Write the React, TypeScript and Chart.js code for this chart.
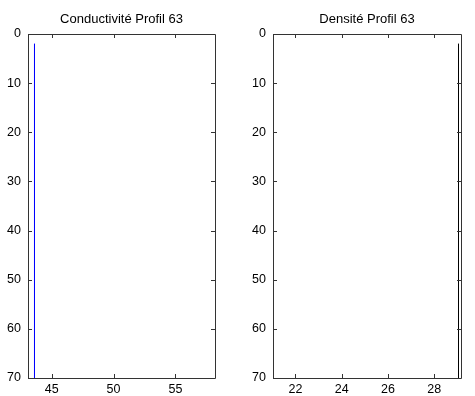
import React, { useEffect, useRef } from "react";
import { Chart, registerables } from "chart.js";

Chart.register(...registerables);

// Data
const depthsCond = [2, 70];
const valuesCond = [43.615, 43.615];
const depthsDens = [2, 70];
const valuesDens = [29.052, 29.052];

const condTitle = "Conductivité Profil 63";
const densTitle = "Densité Profil 63";

const condXTicks = [45, 50, 55];
const densXTicks = [22, 24, 26, 28];
const yTicks = [0, 10, 20, 30, 40, 50, 60, 70];

const condXRange = [43.09, 58.2];
const densXRange = [21.03, 29.16];
const yRange = [0, 70];

const W = 475;
const H = 396;
const FONT = "'Liberation Sans', Arial, sans-serif";

const boxPlugin = {
  id: "boxTicks",
  afterDatasetsDraw(chart: any) {
    const { ctx, chartArea } = chart;
    const xs = chart.scales.x;
    const ys = chart.scales.y;
    const { left, right, top, bottom } = chartArea;
    ctx.save();
    ctx.strokeStyle = "#333";
    ctx.lineWidth = 1;
    ctx.beginPath();
    ctx.rect(Math.round(left) + 0.5, Math.round(top) + 0.5, Math.round(right - left), Math.round(bottom - top));
    const L = 4;
    xs.ticks.forEach((t: any) => {
      const px = Math.round(xs.getPixelForValue(t.value)) + 0.5;
      ctx.moveTo(px, bottom);
      ctx.lineTo(px, bottom - L);
      ctx.moveTo(px, top);
      ctx.lineTo(px, top + L);
    });
    ys.ticks.forEach((t: any) => {
      const py = Math.round(ys.getPixelForValue(t.value)) + 0.5;
      ctx.moveTo(left, py);
      ctx.lineTo(left + L, py);
      ctx.moveTo(right, py);
      ctx.lineTo(right - L, py);
    });
    ctx.stroke();
    ctx.restore();
  },
};

function makeConfig(
  title: string,
  depths: number[],
  values: number[],
  color: string,
  xRange: number[],
  xTicks: number[],
  padLeft: number,
  padRight: number
): any {
  return {
    type: "scatter",
    data: {
      datasets: [
        {
          data: depths.map((d, i) => ({ x: values[i], y: d })),
          showLine: true,
          borderColor: color,
          backgroundColor: color,
          borderWidth: 1,
          pointRadius: 0,
          clip: false,
        },
      ],
    },
    options: {
      responsive: false,
      animation: false,
      layout: { padding: { left: padLeft, right: padRight, top: 0, bottom: 0 } },
      plugins: {
        legend: { display: false },
        tooltip: { enabled: false },
        title: {
          display: true,
          text: title,
          fullSize: false,
          color: "#000",
          font: { family: FONT, size: 13, weight: "normal", lineHeight: 1.2 },
          padding: { top: 12, bottom: 6.4 },
        },
      },
      scales: {
        x: {
          type: "linear",
          min: xRange[0],
          max: xRange[1],
          afterBuildTicks: (s: any) => {
            s.ticks = xTicks.map((v) => ({ value: v }));
          },
          afterFit: (s: any) => {
            s.height = 18;
          },
          grid: { display: false, drawTicks: false },
          border: { display: false },
          ticks: {
            color: "#000",
            padding: 4,
            maxRotation: 0,
            font: { family: FONT, size: 12.5 },
          },
        },
        y: {
          type: "linear",
          reverse: true,
          min: yRange[0],
          max: yRange[1],
          afterBuildTicks: (s: any) => {
            s.ticks = yTicks.map((v) => ({ value: v }));
          },
          afterFit: (s: any) => {
            s.width = 28;
          },
          grid: { display: false, drawTicks: false },
          border: { display: false },
          ticks: {
            color: "#000",
            padding: 7,
            font: { family: FONT, size: 12.5 },
          },
        },
      },
    },
    plugins: [boxPlugin],
  };
}

export default function App() {
  const ref1 = useRef<HTMLCanvasElement>(null);
  const ref2 = useRef<HTMLCanvasElement>(null);

  useEffect(() => {
    const c1 = new Chart(
      ref1.current as HTMLCanvasElement,
      makeConfig(condTitle, depthsCond, valuesCond, "#0000ff", condXRange, condXTicks, 0, W - 215)
    );
    const c2 = new Chart(
      ref2.current as HTMLCanvasElement,
      makeConfig(densTitle, depthsDens, valuesDens, "#000000", densXRange, densXTicks, 245, W - 461)
    );
    return () => {
      c1.destroy();
      c2.destroy();
    };
  }, []);

  const cs: React.CSSProperties = { position: "absolute", left: 0, top: 0, width: W, height: H };
  return (
    <div style={{ position: "absolute", left: 0, top: 0, width: W, height: H, background: "#fff" }}>
      <canvas ref={ref1} width={W} height={H} style={cs} />
      <canvas ref={ref2} width={W} height={H} style={cs} />
    </div>
  );
}
